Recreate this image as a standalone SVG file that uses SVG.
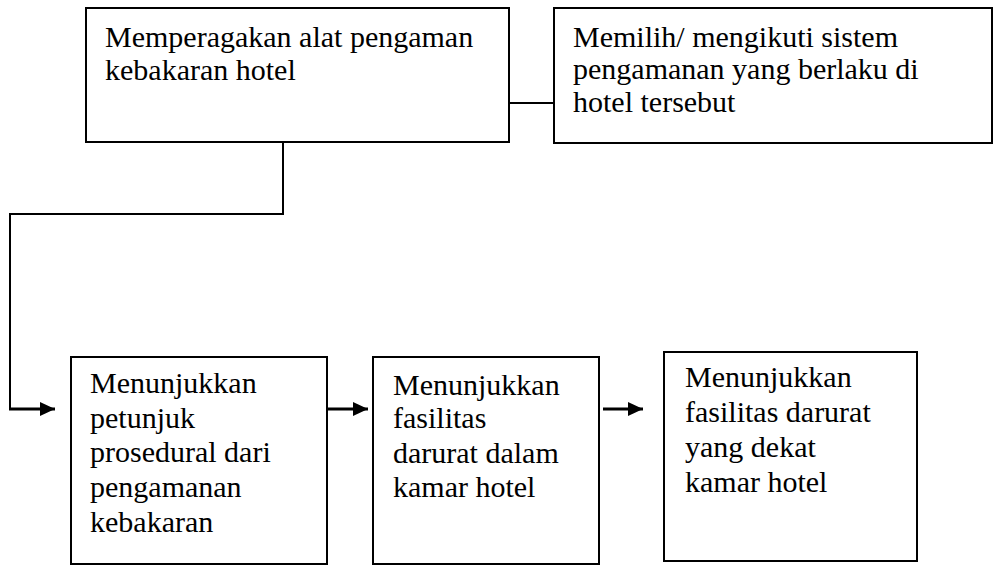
<svg xmlns="http://www.w3.org/2000/svg" width="999" height="567" viewBox="0 0 999 567">
<style>
.box{fill:#fff;stroke:#000;stroke-width:2}
.t{font-family:"Liberation Serif","Times New Roman",serif;font-size:30px;fill:#000}
.ln{fill:none;stroke:#000;stroke-width:2}
.ar{fill:none;stroke:#000;stroke-width:3}
</style>
<defs>
<marker id="ah" markerUnits="userSpaceOnUse" markerWidth="16" markerHeight="14" refX="15" refY="7" orient="auto">
<path d="M0,0 L15,7 L0,14 Z" fill="#000"/>
</marker>
</defs>
<rect width="999" height="567" fill="#fff"/>
<g id="connectors">
<line class="ln" x1="509" y1="103" x2="554" y2="103"/>
<polyline class="ln" points="283,142 283,214 10,214 10,409"/>
<line class="ar" x1="9" y1="409" x2="55" y2="409" marker-end="url(#ah)"/>
<line class="ar" x1="327" y1="409" x2="368" y2="409" marker-end="url(#ah)"/>
<line class="ar" x1="603" y1="409" x2="643" y2="409" marker-end="url(#ah)"/>
</g>
<g id="n1">
<rect class="box" x="86" y="8" width="423" height="134"/>
<text class="t" x="105" y="47">Memperagakan alat pengaman</text>
<text class="t" x="105" y="80">kebakaran hotel</text>
</g>
<g id="n2">
<rect class="box" x="554" y="8" width="438" height="135"/>
<text class="t" x="573" y="47">Memilih/ mengikuti sistem</text>
<text class="t" x="573" y="79">pengamanan yang berlaku di</text>
<text class="t" x="573" y="112">hotel tersebut</text>
</g>
<g id="n3">
<rect class="box" x="71" y="357" width="256" height="207"/>
<text class="t" x="90" y="393">Menunjukkan</text>
<text class="t" x="90" y="428">petunjuk</text>
<text class="t" x="90" y="462">prosedural dari</text>
<text class="t" x="90" y="497">pengamanan</text>
<text class="t" x="90" y="532">kebakaran</text>
</g>
<g id="n4">
<rect class="box" x="373" y="357" width="226" height="207"/>
<text class="t" x="393" y="395">Menunjukkan</text>
<text class="t" x="393" y="428">fasilitas</text>
<text class="t" x="393" y="463">darurat dalam</text>
<text class="t" x="393" y="497">kamar hotel</text>
</g>
<g id="n5">
<rect class="box" x="664" y="352" width="253" height="209"/>
<text class="t" x="685" y="387">Menunjukkan</text>
<text class="t" x="685" y="422">fasilitas darurat</text>
<text class="t" x="685" y="457">yang dekat</text>
<text class="t" x="685" y="492">kamar hotel</text>
</g>
</svg>
